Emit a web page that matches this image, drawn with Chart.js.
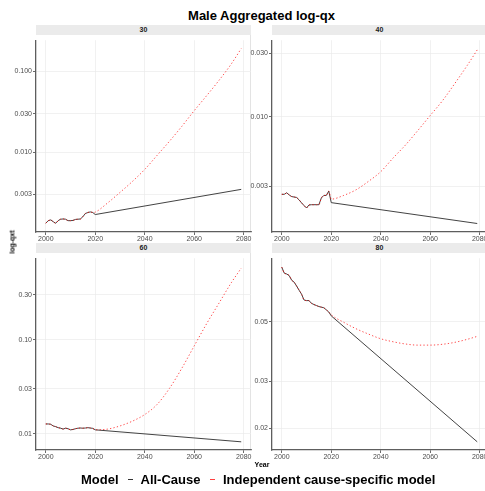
<!DOCTYPE html>
<html>
<head>
<meta charset="utf-8">
<script src="https://cdn.jsdelivr.net/npm/chart.js@4/dist/chart.umd.min.js"></script>
<style>
  html, body { margin:0; padding:0; background:#fff; }
  body { width:485px; height:491px; overflow:hidden; position:relative; font-family:"Liberation Sans", Arial, sans-serif; }
  canvas { position:absolute; }
  .strip { position:absolute; height:10px; background:#ebebeb; font-weight:bold; font-size:7px; line-height:10px; text-align:center; color:#1a1a1a; }
  .txt { position:absolute; white-space:nowrap; color:#000; }
  .key { position:absolute; height:1.4px; width:5px; }
  .pborder { position:absolute; width:1px; background:#e3e3e3; }
</style>
</head>
<body>
<div class="txt" style="left:36px;width:451px;top:9px;text-align:center;font-weight:bold;font-size:13px;line-height:13px;">Male Aggregated log-qx</div>

<div class="strip" style="left:36px;top:25px;width:215px;">30</div>
<div class="strip" style="left:272px;top:25px;width:215px;">40</div>
<div class="strip" style="left:36px;top:243px;width:215px;">60</div>
<div class="strip" style="left:272px;top:243px;width:215px;">80</div>

<div class="pborder" style="left:250px;top:35px;height:197px;"></div>
<div class="pborder" style="left:250px;top:253px;height:197px;"></div>

<canvas id="c30" width="261" height="209" style="left:0px;top:35px;width:261px;height:209px;"></canvas>
<canvas id="c40" width="261" height="209" style="left:236px;top:35px;width:261px;height:209px;"></canvas>
<canvas id="c60" width="261" height="209" style="left:0px;top:253px;width:261px;height:209px;"></canvas>
<canvas id="c80" width="261" height="209" style="left:236px;top:253px;width:261px;height:209px;"></canvas>

<div class="txt" style="left:12px;top:242px;font-weight:bold;font-size:7px;line-height:7px;transform:translate(-50%,-50%) rotate(-90deg);">log-qxt</div>
<div class="txt" style="left:262px;top:464px;font-weight:bold;font-size:7px;line-height:7px;transform:translate(-50%,-50%);">Year</div>

<div class="txt" style="left:81px;top:473px;font-weight:bold;font-size:13px;line-height:13px;">Model</div>
<div class="key" style="left:127.5px;top:478.5px;background:#333;"></div>
<div class="txt" style="left:140.5px;top:473px;font-weight:bold;font-size:13px;line-height:13px;">All-Cause</div>
<div class="key" style="left:210px;top:478.5px;background:#ff4040;"></div>
<div class="txt" style="left:223px;top:473px;font-weight:bold;font-size:13px;line-height:13px;">Independent cause-specific model</div>

<script>
// ---- data ----
const histYears = [2000,2001,2002,2003,2004,2005,2006,2007,2008,2009,2010,2011,2012,2013,2014,2015,2016,2017,2018,2019];
const redYears = [2020,2025,2030,2035,2040,2045,2050,2055,2060,2065,2070,2075,2079];
const blackYears = [2020,2079];
const xTicks = [2000,2020,2040,2060,2080];

// Age 30
const hist30 = [0.00131,0.00141,0.00144,0.00137,0.00131,0.00141,0.00147,0.00148,0.00147,0.00141,0.00141,0.00142,0.00146,0.00147,0.00148,0.00158,0.00173,0.00178,0.00181,0.00178];
const red30 = [0.00180,0.00234,0.00316,0.00432,0.00610,0.00912,0.01365,0.0209,0.0327,0.0501,0.0776,0.1245,0.193];
const black30 = [0.00168,0.00345];
const yTicks30 = [0.003,0.01,0.03,0.1];
const yLabels30 = ["0.003","0.010","0.030","0.100"];

// Age 40
const hist40 = [0.00261,0.00261,0.00268,0.00258,0.00251,0.00249,0.00247,0.00237,0.00225,0.00215,0.00206,0.00217,0.00218,0.00218,0.00218,0.00218,0.00245,0.00256,0.00256,0.00276];
const red40 = [0.00240,0.00256,0.00282,0.00326,0.00386,0.00489,0.00612,0.00787,0.01020,0.0132,0.0178,0.0243,0.0317];
const black40 = [0.00226,0.001575];
const yTicks40 = [0.003,0.01,0.03];
const yLabels40 = ["0.003","0.010","0.030"];

// Age 60
const hist60 = [0.0127,0.0127,0.0126,0.0121,0.0119,0.0116,0.01145,0.0112,0.01145,0.0113,0.0110,0.0111,0.0113,0.01145,0.0115,0.01145,0.0115,0.0116,0.0115,0.0114];
const red60 = [0.0110,0.0112,0.0121,0.0136,0.0160,0.0205,0.0304,0.0498,0.0860,0.148,0.245,0.405,0.578];
const black60 = [0.0110,0.0082];
const yTicks60 = [0.01,0.03,0.1,0.3];
const yLabels60 = ["0.01","0.03","0.10","0.30"];

// Age 80
const hist80 = [0.0800,0.0760,0.0754,0.0744,0.0715,0.0703,0.0680,0.0656,0.0634,0.0603,0.0600,0.0600,0.0586,0.0580,0.0575,0.0570,0.0567,0.0564,0.0554,0.0544];
const red80 = [0.0531,0.0498,0.0471,0.0450,0.0432,0.0421,0.0413,0.0409,0.0409,0.0412,0.0419,0.0430,0.0441];
const black80 = [0.0526,0.0178];
const yTicks80 = [0.02,0.03,0.05];
const yLabels80 = ["0.02","0.03","0.05"];

// ---- drawing ----
const FONT = "'Liberation Sans', Arial, sans-serif";
const tickFont = { family: FONT, size: 7 };
const tickColor = '#4d4d4d';

function panel(id, hist, redVals, blackVals, yMin, yMax, yTicks, yLabels) {
  const histPts = histYears.map((x, i) => ({ x: x, y: hist[i] }));
  const redPts = histPts.concat(redYears.map((x, i) => ({ x: x, y: redVals[i] })));
  const blackPts = histPts.concat(blackYears.map((x, i) => ({ x: x, y: blackVals[i] })));
  new Chart(document.getElementById(id), {
    type: 'line',
    data: {
      datasets: [
        { label: 'Independent cause-specific model', data: redPts, borderColor: 'rgba(255,0,0,0.7)', borderWidth: 1,
          borderDash: [1.3, 2.2], pointRadius: 0, fill: false, cubicInterpolationMode: 'monotone' },
        { label: 'All-Cause', data: blackPts, borderColor: '#2e2e2e', borderWidth: 0.9,
          pointRadius: 0, fill: false, tension: 0 }
      ]
    },
    options: {
      responsive: false, animation: false, devicePixelRatio: 1,
      layout: { padding: { left: 0, right: 10, top: 0, bottom: 0 } },
      plugins: { legend: { display: false }, tooltip: { enabled: false } },
      scales: {
        x: {
          type: 'linear', min: 1996.05, max: 2082.95,
          afterBuildTicks: s => { s.ticks = xTicks.map(v => ({ value: v })); },
          afterFit: s => { s.height = 12; },
          ticks: { font: tickFont, color: tickColor, padding: 0, maxRotation: 0, autoSkip: false, callback: v => String(v) },
          grid: { color: '#ebebeb', lineWidth: 0.7, tickLength: 3, tickColor: '#444', tickWidth: 0.8 },
          border: { display: true, color: '#5e5e5e', width: 1.3 }
        },
        y: {
          type: 'logarithmic', min: yMin, max: yMax,
          afterBuildTicks: s => { s.ticks = yTicks.map(v => ({ value: v })); },
          afterFit: s => { s.width = 36; },
          ticks: { font: tickFont, color: tickColor, padding: 1, autoSkip: false,
                   callback: v => { const i = yTicks.indexOf(v); return i >= 0 ? yLabels[i] : ''; } },
          grid: { color: '#ebebeb', lineWidth: 0.7, tickLength: 3, tickColor: '#444', tickWidth: 0.8 },
          border: { display: true, color: '#5e5e5e', width: 1.3 }
        }
      }
    }
  });
}

panel('c30', hist30, red30, black30, 0.00102, 0.245, yTicks30, yLabels30);
panel('c40', hist40, red40, black40, 0.00136, 0.0375, yTicks40, yLabels40);
panel('c60', hist60, red60, black60, 0.00671, 0.738, yTicks60, yLabels60);
panel('c80', hist80, red80, black80, 0.01659, 0.0864, yTicks80, yLabels80);
</script>
</body>
</html>
